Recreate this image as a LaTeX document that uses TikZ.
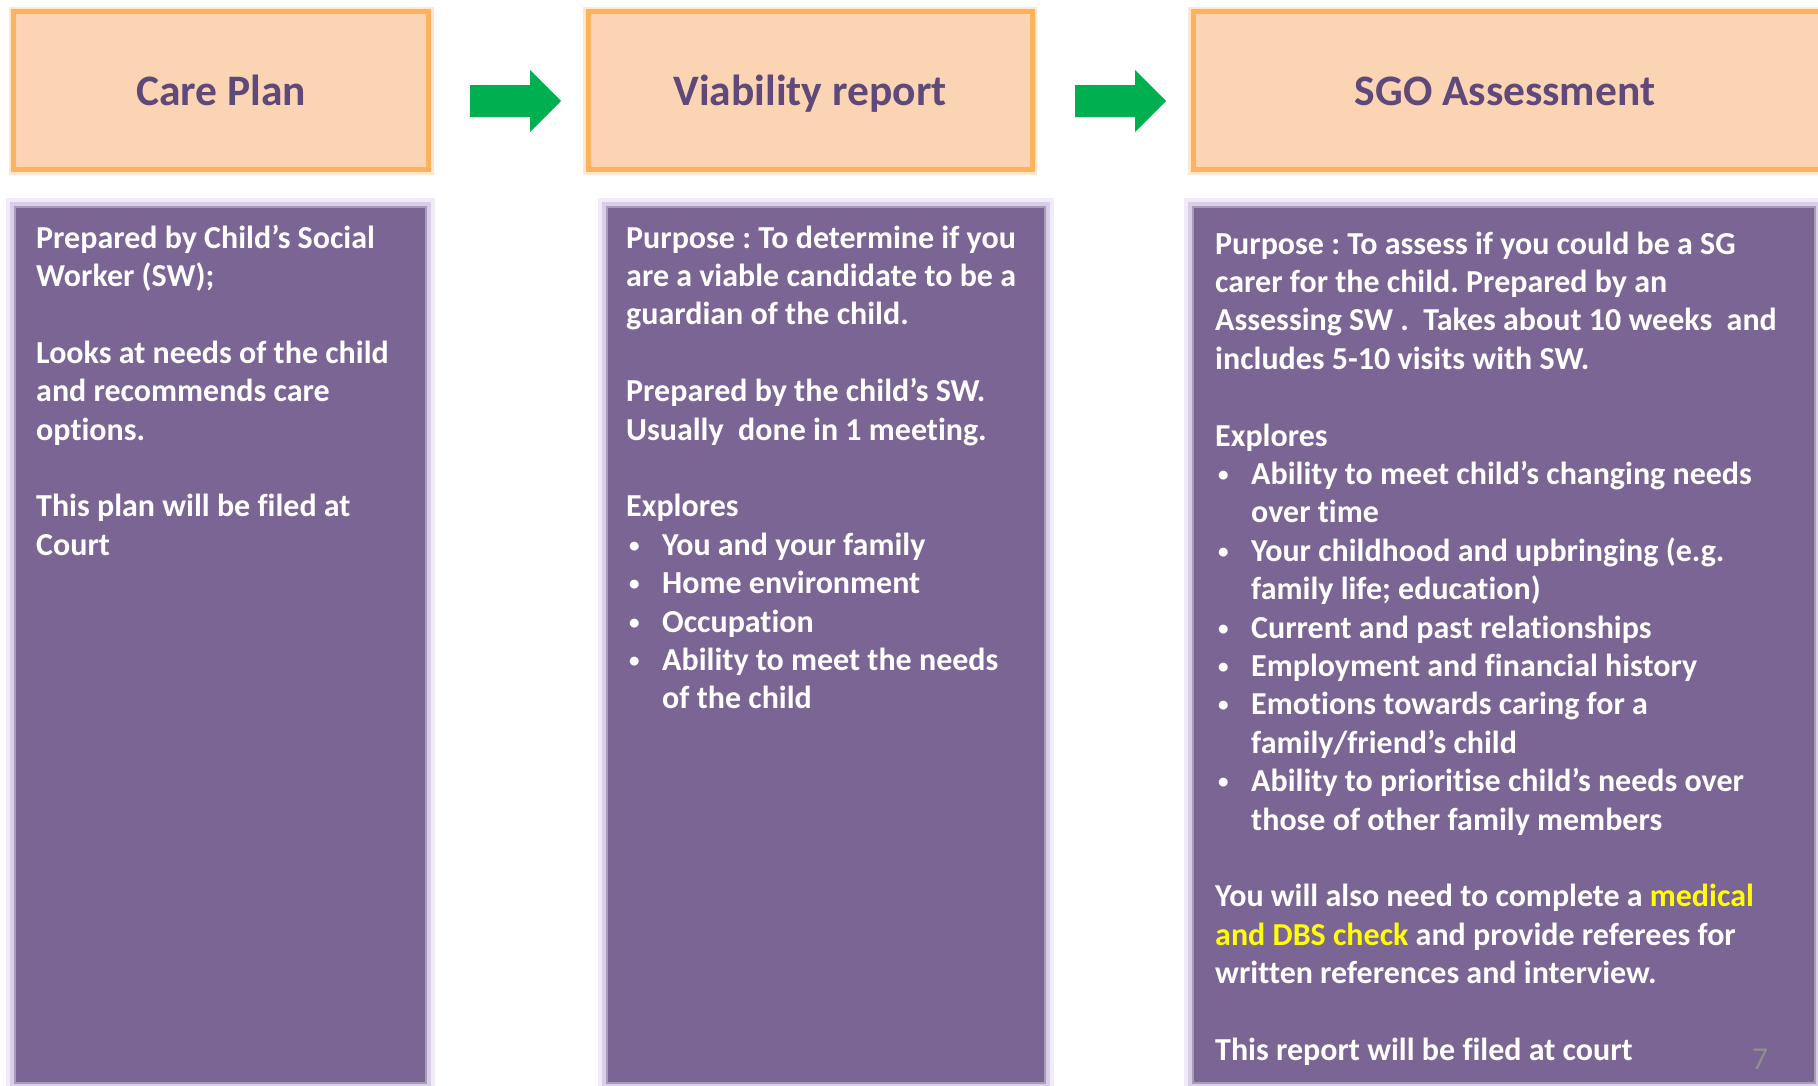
\documentclass[tikz,border=0pt]{standalone}
\usepackage{fontspec}
\setmainfont{Carlito}[Ligatures=NoCommon]
\definecolor{hdrfill}{HTML}{FBD4B4}
\definecolor{hdrline}{HTML}{FFB25E}
\definecolor{hdrtext}{HTML}{5F497A}
\definecolor{bodyfill}{HTML}{7B6594}
\definecolor{bodyline}{HTML}{A59FB0}
\definecolor{glow}{HTML}{C6B1E0}
\definecolor{arrowgreen}{HTML}{00B050}
\definecolor{hl}{HTML}{FFFF00}
\definecolor{pagenum}{HTML}{8E8E8E}
\frenchspacing
\newcommand{\blank}{\\\mbox{}\\}
\newcommand{\bul}{\hspace*{3pt}\makebox[33pt][l]{\raisebox{3pt}{\fontsize{21}{21}\selectfont •}}}
\newcommand{\cont}{\hspace*{36pt}}
\begin{document}
\begin{tikzpicture}[x=1pt,y=-1pt,
  hdrbox/.style={fill=hdrfill, draw=hdrline, line width=5pt, inner sep=0pt,
    preaction={draw=hdrline, line width=10pt, opacity=0.3}},
  hdrtitle/.style={text=hdrtext, font=\fontsize{43.5}{52}\selectfont\bfseries,
    inner sep=0pt, text height=30.5pt, text depth=0pt},
  bodybox/.style={fill=bodyfill, draw=bodyline, line width=2.5pt, inner sep=0pt,
    preaction={draw=glow, line width=18pt, opacity=0.25},
    preaction={draw=glow, line width=10pt, opacity=0.5}},
  bodytext/.style={text=white, inner sep=0pt, anchor=base west,
    font=\fontsize{32}{38.4}\selectfont\bfseries},
  greenarrow/.style={fill=arrowgreen},
  pagenumber/.style={text=pagenum, font=\fontsize{32}{38}\selectfont, inner sep=0pt, anchor=base}
]
\useasboundingbox (0,0) rectangle (1818,1085);
\clip (0,0) rectangle (1818,1085);
\fill[white] (0,0) rectangle (1818,1085);

% headers
\node[hdrbox, minimum width=415pt, minimum height=158pt] (h1) at (221,90.5) {};
\node[hdrbox, minimum width=444pt, minimum height=158pt] (h2) at (810,90.5) {};
\node[hdrbox, minimum width=640pt, minimum height=158pt] (h3) at (1513,90.5) {};
\node[hdrtitle] (t1) at (h1.center) {Care Plan};
\node[hdrtitle] (t2) at (h2.center) {Viability report};
\node[hdrtitle] (t3) at ([xshift=-8pt]h3.center) {SGO Assessment};

% arrows
\fill[greenarrow] (470,85) -- (530,85) -- (530,70) -- (561,101) -- (530,132) -- (530,117) -- (470,117) -- cycle;
\fill[greenarrow] (1075,85) -- (1135,85) -- (1135,70) -- (1166,101) -- (1135,132) -- (1135,117) -- (1075,117) -- cycle;

% bodies
\node[bodybox, minimum width=411pt, minimum height=876pt] (b1) at (220.5,645) {};
\node[bodybox, minimum width=438pt, minimum height=876pt] (b2) at (826,645) {};
\node[bodybox, minimum width=622pt, minimum height=876pt] (b3) at (1504,645) {};

\node[bodytext] (x1) at (36,248) {\begin{minipage}[t]{385pt}\fontsize{32}{38.4}\selectfont\bfseries
Prepared by Child’s Social\\
Worker (SW);\blank
Looks at needs of the child\\
and recommends care\\
options.\blank
This plan will be filed at\\
Court
\end{minipage}};

\node[bodytext] (x2) at (626,248) {\begin{minipage}[t]{415pt}\fontsize{32}{38.4}\selectfont\bfseries
Purpose : To determine if you\\
are a viable candidate to be a\\
guardian of the child.\blank
Prepared by the child’s SW.\\
Usually\ \ done in 1 meeting.\blank
Explores\\
\bul You and your family\\
\bul Home environment\\
\bul Occupation\\
\bul Ability to meet the needs\\
\cont of the child
\end{minipage}};

\node[bodytext] (x3) at (1215,254) {\begin{minipage}[t]{600pt}\fontsize{32}{38.4}\selectfont\bfseries
Purpose : To assess if you could be a SG\\
carer for the child. Prepared by an\\
Assessing SW .\ \ Takes about 10 weeks\ \ and\\
includes 5-10 visits with SW.\blank
Explores\\
\bul Ability to meet child’s changing needs\\
\cont over time\\
\bul Your childhood and upbringing (e.g.\\
\cont family life; education)\\
\bul Current and past relationships\\
\bul Employment and financial history\\
\bul Emotions towards caring for a\\
\cont family/friend’s child\\
\bul Ability to prioritise child’s needs over\\
\cont those of other family members\blank
You will also need to complete a \textcolor{hl}{medical}\\
\textcolor{hl}{and DBS check} and provide referees for\\
written references and interview.\blank
This report will be filed at court
\end{minipage}};

\node[pagenumber] (pg) at (1760,1069) {7};
\end{tikzpicture}
\end{document}
